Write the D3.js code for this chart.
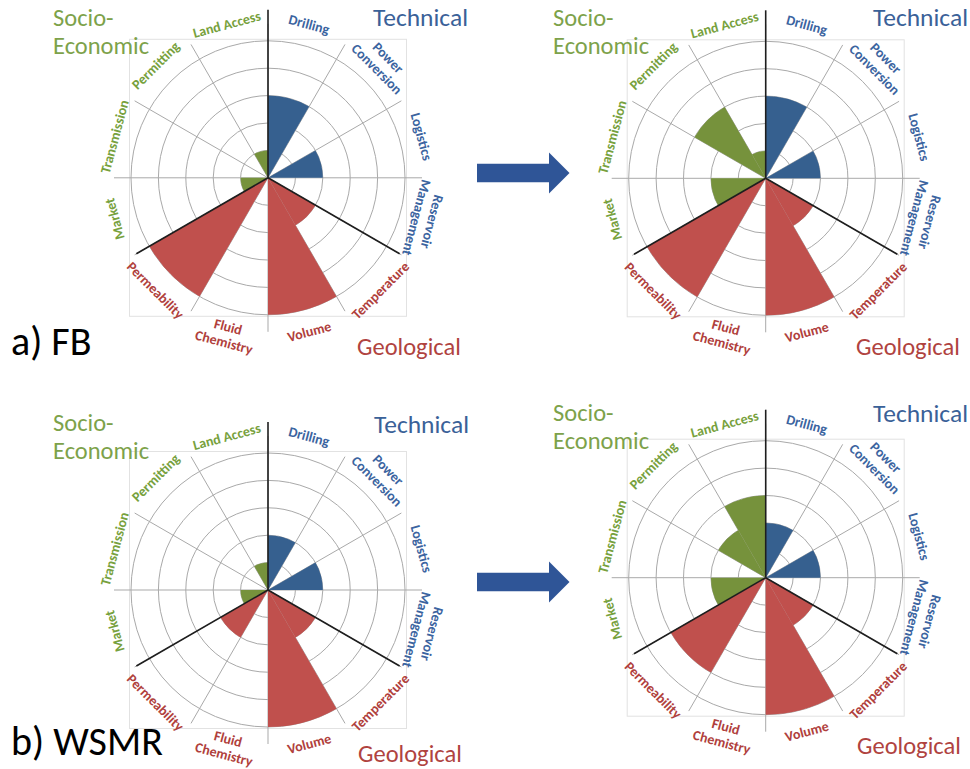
<!DOCTYPE html>
<html>
<head>
<meta charset="utf-8">
<script src="https://cdn.jsdelivr.net/npm/d3@7/dist/d3.min.js"></script>
<style>
  html, body { margin: 0; padding: 0; background: #ffffff; }
  svg { display: block; }
  text { font-family: Carlito, Calibri, Lato, "Open Sans", sans-serif; }
</style>
</head>
<body>
<svg id="chart" width="970" height="769"></svg>
<script>
// Assessment categories, clockwise from 12 o'clock ("\n" splits a label onto two lines)
const categories = [
  "Drilling", "Power\nConversion", "Logistics", "Reservoir\nManagement",
  "Temperature", "Volume", "Fluid\nChemistry", "Permeability",
  "Market", "Transmission", "Permitting", "Land Access"
];
// Factor group of each category
const categoryGroups = [
  "Technical", "Technical", "Technical", "Technical",
  "Geological", "Geological", "Geological", "Geological",
  "Socio-Economic", "Socio-Economic", "Socio-Economic", "Socio-Economic"
];
const groupNames = ["Socio-Economic", "Technical", "Geological"];

// Scores per category (0 - 5)
const fbBefore   = [3, 0, 2, 0, 2, 5, 0, 5, 1, 0, 0, 1];
const fbAfter    = [3, 0, 2, 0, 2, 5, 0, 5, 2, 0, 3, 1];
const wsmrBefore = [2, 0, 2, 0, 2, 5, 0, 2, 1, 0, 0, 1];
const wsmrAfter  = [2, 0, 2, 0, 2, 5, 0, 4, 2, 0, 2, 3];

// Ring levels of the radial axis
const ringTicks = [1, 2, 3, 4, 5];

// Row captions
const rowCaptions = ["a) FB", "b) WSMR"];

// ---- styling ----
const fillColor = { "Technical": "#36608f", "Geological": "#c0504d", "Socio-Economic": "#76923c" };
const textColor = { "Technical": "#3b64a0", "Geological": "#b0403c", "Socio-Economic": "#77a13d" };
const titleColor = { "Technical": "#3a6198", "Geological": "#b0433f", "Socio-Economic": "#7da24a" };

const R = 137;
const svg = d3.select("#chart");

const r = d3.scaleLinear().domain([0, 5]).range([0, R]);
const angle = d3.scaleBand().domain(categories).range([0, 2 * Math.PI]).padding(0);

const deg = a => a * 180 / Math.PI;
const polar = (a, rad) => [rad * Math.sin(a), -rad * Math.cos(a)];

// panel layout: centre and title anchors
const panels = [
  { values: fbBefore,   cx: 268,   cy: 177.8,
    socio: [53, 26], tech: [468, 26], geo: [357, 355] },
  { values: fbAfter,    cx: 765.7, cy: 178.3,
    socio: [553, 26], tech: [968, 26], geo: [856, 355] },
  { values: wsmrBefore, cx: 268,   cy: 590,
    socio: [53, 431], tech: [469, 433], geo: [358, 762] },
  { values: wsmrAfter,  cx: 765.7, cy: 577.7,
    socio: [553, 421], tech: [968, 422], geo: [857, 754] }
];

const arc = d3.arc().innerRadius(0);

panels.forEach(p => {
  const g = svg.append("g").attr("transform", `translate(${p.cx},${p.cy})`);

  // plot-area frame
  g.append("rect")
    .attr("x", -R - 1.5).attr("y", -R - 1.5)
    .attr("width", 2 * R + 3).attr("height", 2 * R + 3)
    .attr("fill", "none").attr("stroke", "#e2e2e2").attr("stroke-width", 1);

  // rings
  g.selectAll("circle.ring").data(ringTicks).join("circle")
    .attr("class", "ring")
    .attr("r", d => r(d))
    .attr("fill", "none").attr("stroke", "#a9a9a9").attr("stroke-width", 1);

  // spokes on category boundaries
  const spokeLen = 154;
  g.selectAll("line.spoke").data(categories).join("line")
    .attr("class", "spoke")
    .attr("x1", 0).attr("y1", 0)
    .attr("x2", d => polar(angle(d), spokeLen)[0])
    .attr("y2", d => polar(angle(d), spokeLen)[1])
    .attr("stroke", "#a9a9a9").attr("stroke-width", 1);

  // wedges
  const rows = categories.map((c, i) => ({ cat: c, group: categoryGroups[i], v: p.values[i] }));
  g.selectAll("path.wedge").data(rows.filter(d => d.v > 0)).join("path")
    .attr("class", "wedge")
    .attr("d", d => arc({
      outerRadius: r(d.v),
      startAngle: angle(d.cat),
      endAngle: angle(d.cat) + angle.bandwidth()
    }))
    .attr("fill", d => fillColor[d.group]);

  // group dividers
  const dividers = categories.filter((c, i) => i === 0 || categoryGroups[i] !== categoryGroups[i - 1]);
  g.selectAll("line.divider").data(dividers).join("line")
    .attr("class", "divider")
    .attr("x1", 0).attr("y1", 0)
    .attr("x2", d => polar(angle(d), angle(d) === 0 ? 168 : 152)[0])
    .attr("y2", d => polar(angle(d), angle(d) === 0 ? 168 : 152)[1])
    .attr("stroke", "#1e1e1e").attr("stroke-width", 1.6);

  // category labels, set along the rim
  const labelR = 159;
  const lineH = 16;
  const lab = g.selectAll("g.lab").data(rows).join("g")
    .attr("class", "lab")
    .attr("transform", d => {
      const a = angle(d.cat) + angle.bandwidth() / 2;
      const b = deg(a);
      const nLines = d.cat.split("\n").length;
      const rr = nLines > 1 ? labelR + 3 : labelR;
      const [x, y] = polar(a, rr);
      const rot = b < 120 ? b : (b < 240 ? b - 180 : b - 360);
      return `translate(${x},${y}) rotate(${rot})`;
    });
  lab.append("text")
    .attr("text-anchor", "middle")
    .attr("fill", d => textColor[d.group])
    .style("font-size", "14px").style("font-weight", "bold")
    .selectAll("tspan").data(d => {
      const parts = d.cat.split("\n");
      return parts.map((t, k) => ({ t, y: (k - (parts.length - 1) / 2) * lineH }));
    }).join("tspan")
    .attr("x", 0).attr("y", d => d.y).attr("dy", "0.35em")
    .text(d => d.t);

  // group titles
  const soc = svg.append("text")
    .attr("x", p.socio[0]).attr("y", p.socio[1])
    .attr("fill", titleColor["Socio-Economic"])
    .style("font-size", "24.5px");
  soc.append("tspan").attr("x", p.socio[0]).text("Socio-");
  soc.append("tspan").attr("x", p.socio[0]).attr("dy", 28).text("Economic");

  svg.append("text")
    .attr("x", p.tech[0]).attr("y", p.tech[1])
    .attr("text-anchor", "end")
    .attr("fill", titleColor["Technical"])
    .style("font-size", "25.5px")
    .text(groupNames[1]);

  svg.append("text")
    .attr("x", p.geo[0]).attr("y", p.geo[1])
    .attr("fill", titleColor["Geological"])
    .style("font-size", "24.5px")
    .text(groupNames[2]);
});

// block arrows between the before / after panels
const arrowRows = [173, 582];
svg.selectAll("path.arrow").data(arrowRows).join("path")
  .attr("class", "arrow")
  .attr("d", cy => {
    const p = d3.path();
    p.moveTo(477, cy - 9.2);
    p.lineTo(549, cy - 9.2);
    p.lineTo(549, cy - 20.5);
    p.lineTo(569.5, cy);
    p.lineTo(549, cy + 20.5);
    p.lineTo(549, cy + 9.2);
    p.lineTo(477, cy + 9.2);
    p.closePath();
    return p.toString();
  })
  .attr("fill", "#2f5597");

// row captions
svg.selectAll("text.caption").data(rowCaptions).join("text")
  .attr("class", "caption")
  .attr("x", 11)
  .attr("y", (d, i) => i === 0 ? 355 : 755)
  .attr("fill", "#000")
  .style("font-size", "40px")
  .text(d => d);
</script>
</body>
</html>
